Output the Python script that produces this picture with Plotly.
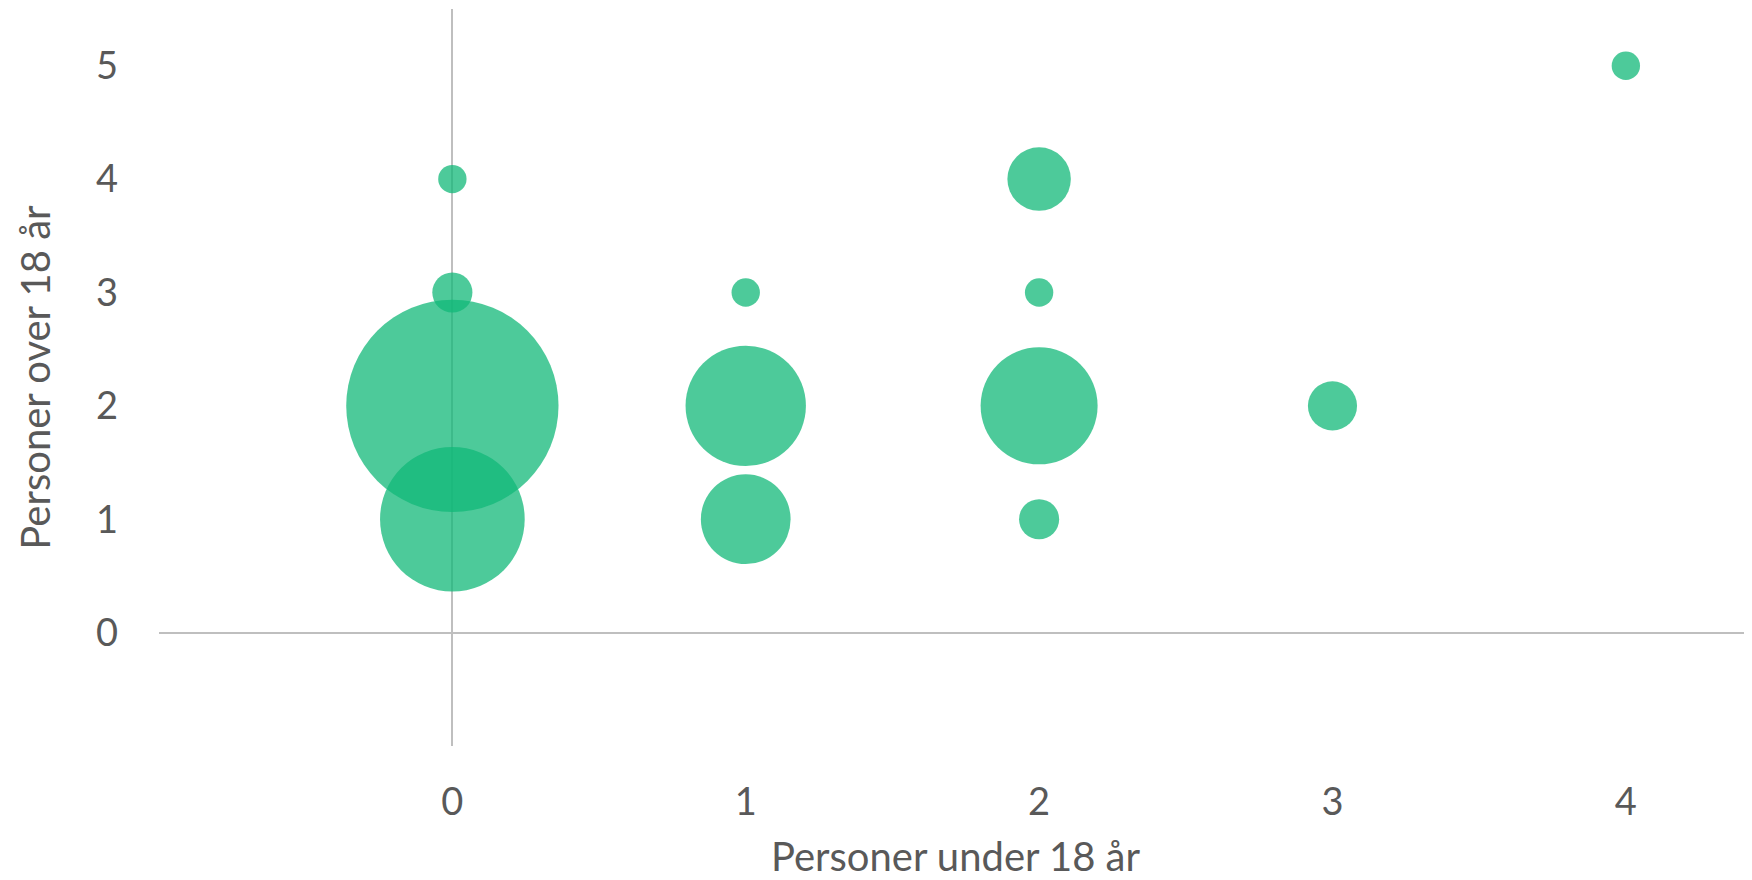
import plotly.graph_objects as go

# Data
under_18 = [0, 0, 0, 0, 1, 1, 1, 2, 2, 2, 2, 3, 4]
over_18 = [1, 2, 3, 4, 1, 2, 3, 1, 2, 3, 4, 2, 5]
count = [26, 56, 2, 1, 10, 18, 1, 2, 17, 1, 5, 3, 1]

x_ticks = [0, 1, 2, 3, 4]
y_ticks = [0, 1, 2, 3, 4, 5]
x_title = "Personer under 18 år"
y_title = "Personer over 18 år"

FONT = "Lato, 'Open Sans', sans-serif"
TXT = "#595959"
AX = "#bfbfbf"
unit_d = 28.37  # pixel diameter of a bubble with value 1

fig = go.Figure(
    go.Scatter(
        x=under_18,
        y=over_18,
        mode="markers",
        marker=dict(
            size=count,
            sizemode="area",
            sizeref=2.0 / unit_d ** 2,
            color="rgba(18,184,120,0.75)",
            opacity=1,
            line=dict(width=0),
        ),
        hoverinfo="x+y+text",
        text=[str(c) for c in count],
    )
)

fig.update_layout(
    width=1744,
    height=872,
    margin=dict(l=151, r=0, t=1, b=134),
    paper_bgcolor="white",
    plot_bgcolor="white",
    showlegend=False,
    font=dict(family=FONT, color=TXT, size=38),
    xaxis=dict(
        range=[-1, 4.43],
        tickvals=x_ticks,
        ticktext=[str(v) for v in x_ticks],
        showgrid=False,
        showline=False,
        zeroline=True,
        zerolinecolor=AX,
        zerolinewidth=1.5,
        ticks="",
        ticklabelstandoff=30,
        tickfont=dict(size=38, color=TXT, family=FONT),
        title=dict(text=x_title, font=dict(size=40, color=TXT, family=FONT), standoff=32),
        automargin=False,
    ),
    yaxis=dict(
        range=[-1, 5.5],
        tickvals=y_ticks,
        ticktext=[str(v) for v in y_ticks],
        showgrid=False,
        showline=False,
        zeroline=True,
        zerolinecolor=AX,
        zerolinewidth=1.5,
        ticks="",
        ticklabelstandoff=40,
        tickfont=dict(size=38, color=TXT, family=FONT),
        title=dict(text=y_title, font=dict(size=40, color=TXT, family=FONT), standoff=32),
        automargin=False,
    ),
)

fig.write_html("out.html")
